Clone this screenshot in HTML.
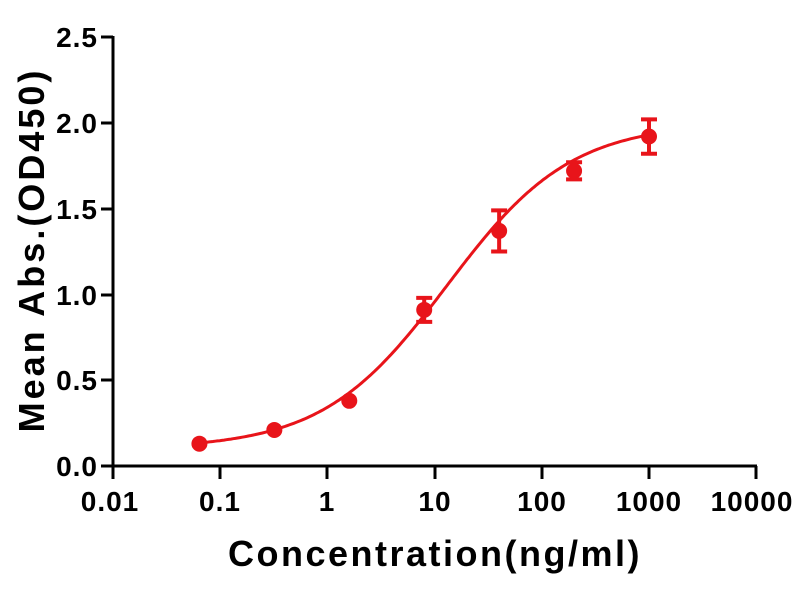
<!DOCTYPE html><html><head><style>body{margin:0;background:#fff}svg{display:block}text{font-family:"Liberation Sans",Arial,sans-serif;font-weight:bold;fill:#000}</style></head><body>
<svg id="s" width="800" height="600" viewBox="0 0 800 600">
<g stroke="#000" stroke-width="3" fill="none">
<path d="M113,36V466H757"/>
<path d="M101,37H113M101,123H113M101,209H113M101,295H113M101,380H113M101,466H113"/>
<path d="M113,466V479M220,466V479M327,466V479M435,466V479M542,466V479M649,466V479M756,466V479"/>
</g>
<g font-size="28" text-anchor="end" letter-spacing="1">
<text x="98" y="47">2.5</text><text x="98" y="133">2.0</text><text x="98" y="219">1.5</text><text x="98" y="305">1.0</text><text x="98" y="390">0.5</text><text x="98" y="476">0.0</text>
</g>
<g font-size="28" text-anchor="middle" letter-spacing="1">
<text x="110" y="511">0.01</text><text x="220" y="511">0.1</text><text x="327" y="511">1</text><text x="435" y="511">10</text><text x="542" y="511">100</text><text x="649" y="511">1000</text><text x="752" y="511">10000</text>
</g>
<text x="435" y="566" font-size="36" letter-spacing="2.5" text-anchor="middle">Concentration(ng/ml)</text>
<text transform="translate(44,250) rotate(-90)" font-size="36" letter-spacing="3" text-anchor="middle">Mean Abs.(OD450)</text>
<g id="d" fill="#e8141a" stroke="#e8141a"></g>
</svg>
<script>
var X=c=>113+107.2*(Math.log10(c)+2),Y=v=>466-171.6*v;
var f=c=>0.1+(2.0-0.1)/(1+Math.pow(13/c,0.75));
var p="";for(var i=0;i<=200;i++){var c=0.064*Math.pow(1000/0.064,i/200);p+=(i?"L":"M")+X(c).toFixed(1)+","+Y(f(c)).toFixed(1);}
var d=[[0.064,0.13,0],[0.32,0.21,0],[1.6,0.38,0],[8,0.91,0.07],[40,1.37,0.12],[200,1.72,0.05],[1000,1.92,0.1]];
var h='<path d="'+p+'" fill="none" stroke-width="3"/>';
d.forEach(a=>{var x=X(a[0]),y=Y(a[1]);if(a[2]){var t=Y(a[1]+a[2]),b=Y(a[1]-a[2]);h+='<path d="M'+x+','+t+'V'+b+'M'+(x-8)+','+t+'H'+(x+8)+'M'+(x-8)+','+b+'H'+(x+8)+'" fill="none" stroke-width="4"/>';}h+='<circle cx="'+x+'" cy="'+y+'" r="8" stroke="none"/>';});
document.getElementById("d").innerHTML=h;
</script></body></html>
